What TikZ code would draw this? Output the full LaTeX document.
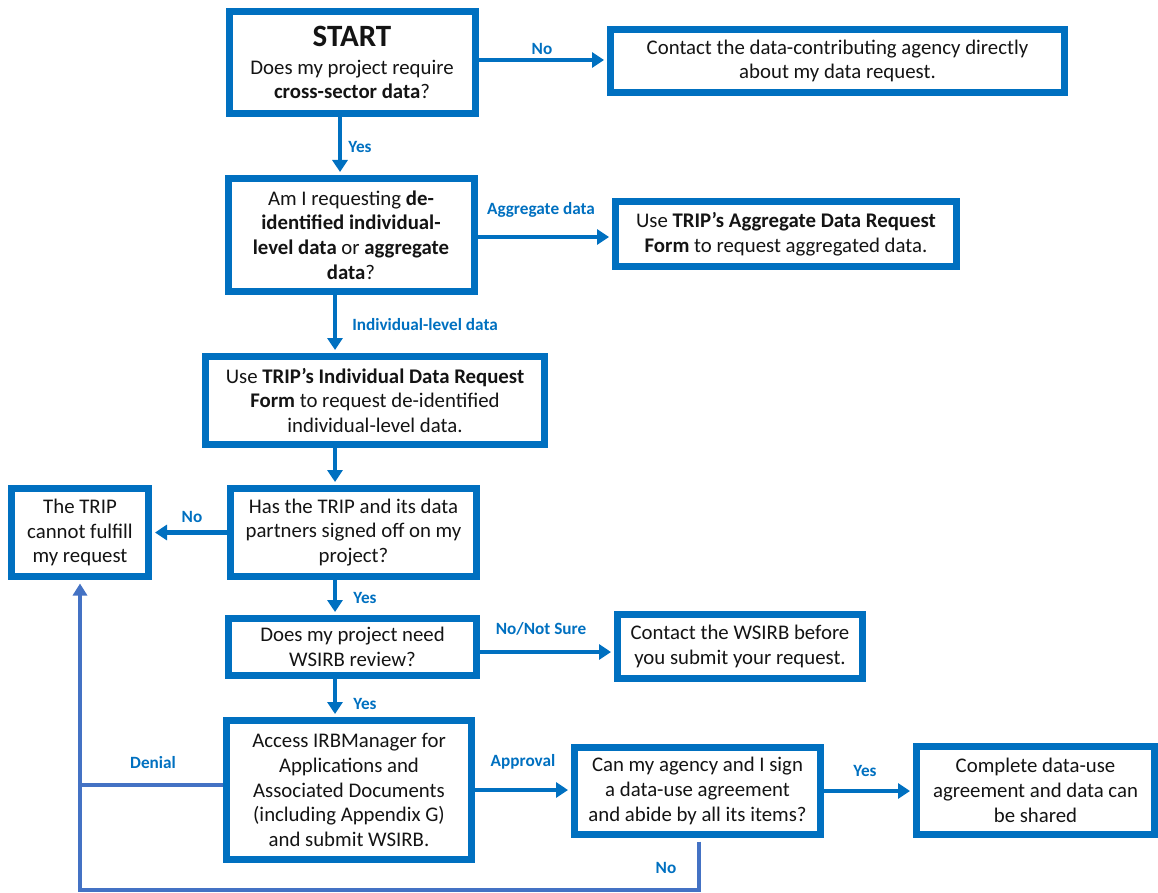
\documentclass[tikz,border=0pt]{standalone}
\usepackage{fontspec}
\setmainfont{Carlito}
\usetikzlibrary{arrows.meta, calc}
\definecolor{tripblue}{RGB}{0, 112, 192}
\definecolor{tripfeed}{RGB}{68, 114, 196}
\definecolor{triptext}{RGB}{20, 20, 20}

\begin{document}
\begin{tikzpicture}[x=1pt, y=-1pt,
    box/.style={draw=tripblue, line width=7pt, fill=white, align=center,
        inner sep=2pt, text=triptext, font=\fontsize{20.8}{24.8}\selectfont},
    flow/.style={draw=tripblue, line width=4.5pt,
        -{Triangle[length=12pt, width=15pt]}, shorten >=3pt},
    back/.style={draw=tripfeed, line width=4pt},
    lbl/.style={text=tripblue, inner sep=0pt,
        font=\fontsize{17.2}{19}\selectfont\bfseries}]

\useasboundingbox (0,0) rectangle (1158,893);

% === Cajas principales ===
\node[box, minimum width=246pt, minimum height=102pt] (start) at (352,62.5)
    {{\fontsize{31}{32}\selectfont\bfseries START}\\[3pt]
     Does my project require\\ \textbf{cross-sector data}?};
\node[box, minimum width=454pt, minimum height=63pt] (contact) at (837.5,61)
    {Contact the data-contributing agency directly\\ about my data request.};

\node[box, minimum width=246pt, minimum height=113pt] (deid) at (351,235)
    {Am I requesting \textbf{de-}\\ \textbf{identified individual-}\\
     \textbf{level data} or \textbf{aggregate}\\ \textbf{data}?};
\node[box, minimum width=341pt, minimum height=65pt] (agg) at (786,234)
    {Use \textbf{TRIP’s Aggregate Data Request}\\ \textbf{Form} to request aggregated data.};

\node[box, minimum width=339pt, minimum height=88pt] (indiv) at (375,400.5)
    {Use \textbf{TRIP’s Individual Data Request}\\ \textbf{Form} to request de-identified\\
     individual-level data.};

\node[box, minimum width=246pt, minimum height=88pt] (signoff) at (353.5,532.5)
    {Has the TRIP and its data\\ partners signed off on my\\ project?};
\node[box, minimum width=137pt, minimum height=88pt] (cannot) at (80,532.5)
    {The TRIP\\ cannot fulfill\\ my request};

\node[box, minimum width=248pt, minimum height=57pt] (wsirb) at (352.5,647)
    {Does my project need\\ WSIRB review?};
\node[box, minimum width=245pt, minimum height=64pt] (contactw) at (740,646.5)
    {Contact the WSIRB before\\ you submit your request.};

\node[box, minimum width=245pt, minimum height=139pt] (access) at (349,790)
    {Access IRBManager for\\ Applications and\\ Associated Documents\\
     (including Appendix G)\\ and submit WSIRB.};
\node[box, minimum width=246pt, minimum height=87pt] (agree) at (697.5,791)
    {Can my agency and I sign\\ a data-use agreement\\ and abide by all its items?};
\node[box, minimum width=238pt, minimum height=88pt] (complete) at (1035.5,790.5)
    {Complete data-use\\ agreement and data can\\ be shared};

% === Flechas ===
\draw[flow] ([xshift=-12pt]start.south) -- ([xshift=-11pt]deid.north);
\draw[flow] ([yshift=2.5pt]start.east) -- ([yshift=2.5pt]start.east -| contact.west);
\draw[flow] ([yshift=-2pt]deid.east) -- ([yshift=-2pt]deid.east -| agg.west);
\draw[flow] ([xshift=-16pt]deid.south) -- ([xshift=-40pt]indiv.north);
\draw[flow] ([xshift=-40pt]indiv.south) -- ([xshift=-18.5pt]signoff.north);
\draw[flow] (signoff.west) -- (cannot.east);
\draw[flow] ([xshift=-18.5pt]signoff.south) -- ([xshift=-17.5pt]wsirb.north);
\draw[flow] ([yshift=-5pt]wsirb.east) -- ([yshift=-5pt]wsirb.east -| contactw.west);
\draw[flow] ([xshift=-17.5pt]wsirb.south) -- ([xshift=-14pt]access.north);
\draw[flow] (access.east) -- (access.east -| agree.west);
\draw[flow] (agree.east) -- (agree.east -| complete.west);

% === Retorno (negacion) ===
\coordinate (loop) at (80,890);
\draw[back] ([yshift=5pt]access.west) -| (loop);
\draw[back, shorten <=3.5pt, shorten >=3.5pt, -{Triangle[length=12pt, width=14pt]}]
    ([xshift=1.5pt]agree.south) |- (loop) -- (cannot.south);

% === Etiquetas ===
\node[lbl] (lnostart) at (542,49) {No};
\node[lbl] (lyesstart) at (360,147) {Yes};
\node[lbl] (lagg) at (541,210) {Aggregate data};
\node[lbl] (lindiv) at (425,325) {Individual-level data};
\node[lbl] (lnosign) at (192,517) {No};
\node[lbl] (lyessign) at (365,598) {Yes};
\node[lbl] (lnotsure) at (541,629) {No/Not Sure};
\node[lbl] (lyeswsirb) at (365,704) {Yes};
\node[lbl] (ldenial) at (153,763) {Denial};
\node[lbl] (lapproval) at (523,762) {Approval};
\node[lbl] (lyesagree) at (865,771) {Yes};
\node[lbl] (lnoagree) at (666,868) {No};

\end{tikzpicture}
\end{document}
